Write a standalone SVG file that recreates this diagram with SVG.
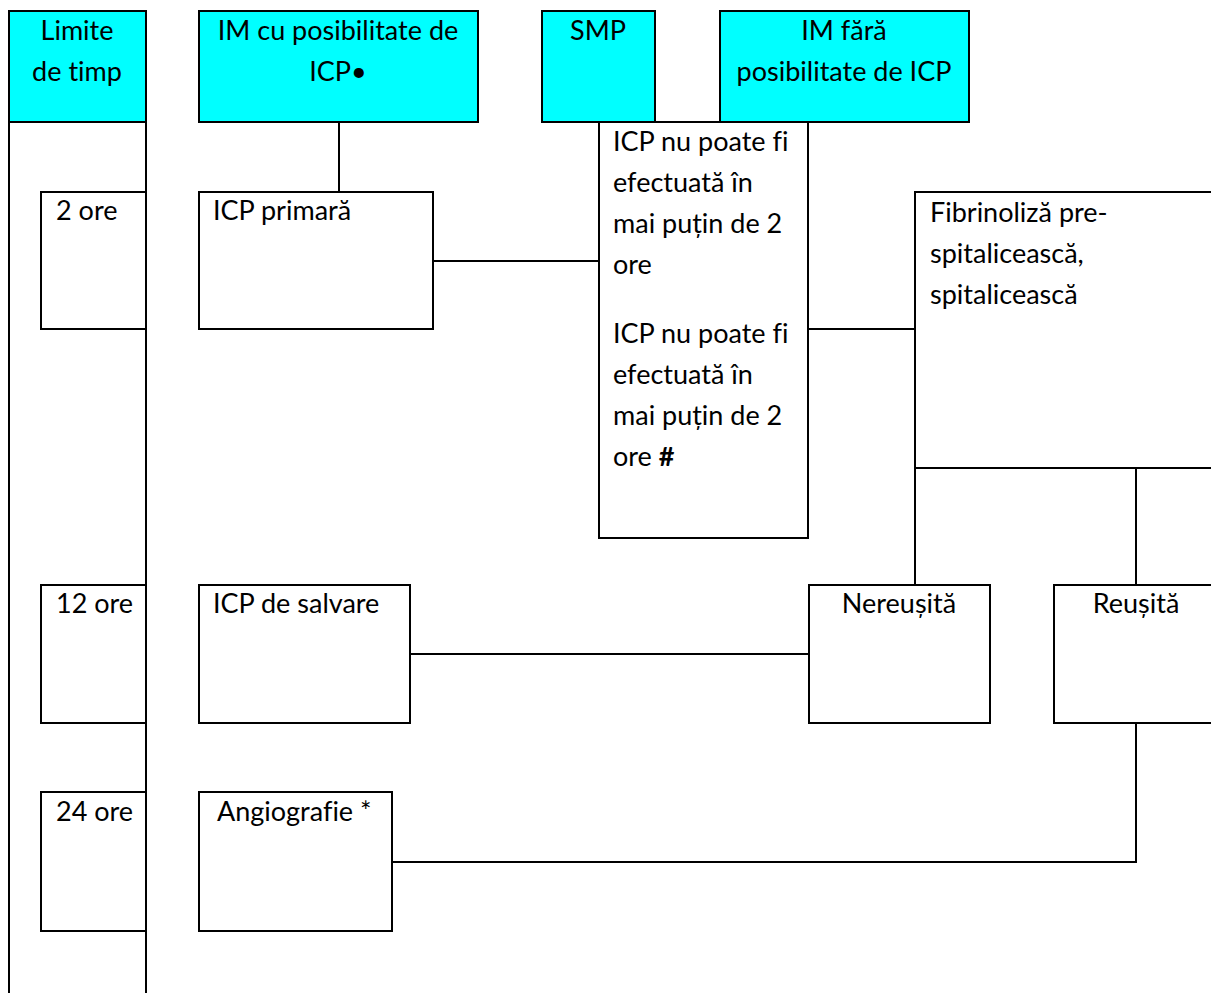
<svg xmlns="http://www.w3.org/2000/svg" width="1211" height="993" viewBox="0 0 1211 993">
<style>
.b{fill:#fff;stroke:#000;stroke-width:2}
.h{fill:#00ffff;stroke:#000;stroke-width:2}
.c{fill:none;stroke:#000;stroke-width:2}
text{font-family:Lato,"Open Sans","Liberation Sans",sans-serif;font-size:27px;fill:#000;font-variant-ligatures:none}
.m{text-anchor:middle}
</style>
<rect width="1211" height="993" fill="#fff"/>
<g id="timeline">
<rect class="h" x="9" y="11" width="137" height="111"/>
<text class="m" x="77" y="40">Limite</text>
<text class="m" x="77" y="81">de timp</text>
<line class="c" x1="9" y1="122" x2="9" y2="995"/>
<line class="c" x1="146" y1="122" x2="146" y2="995"/>
</g>
<g id="t2">
<rect class="b" x="41" y="192" width="105" height="137"/>
<text x="56" y="220">2 ore</text>
</g>
<g id="t12">
<rect class="b" x="41" y="585" width="105" height="138"/>
<text x="56" y="613">12 ore</text>
</g>
<g id="t24">
<rect class="b" x="41" y="792" width="105" height="139"/>
<text x="56" y="821">24 ore</text>
</g>
<g id="connectors">
<line class="c" x1="339" y1="122" x2="339" y2="192"/>
<line class="c" x1="433" y1="261" x2="599" y2="261"/>
<line class="c" x1="808" y1="329" x2="915" y2="329"/>
<line class="c" x1="915" y1="468" x2="915" y2="585"/>
<line class="c" x1="1136" y1="468" x2="1136" y2="585"/>
<line class="c" x1="410" y1="654" x2="809" y2="654"/>
<polyline class="c" points="1136,723 1136,862 392,862"/>
</g>
<g id="im-icp">
<rect class="h" x="199" y="11" width="279" height="111"/>
<text class="m" x="338" y="40">IM cu posibilitate de</text>
<text class="m" x="338" y="81">ICP•</text>
</g>
<g id="smp">
<rect class="h" x="542" y="11" width="113" height="111"/>
<text class="m" x="598" y="40">SMP</text>
</g>
<g id="im-fara">
<rect class="h" x="720" y="11" width="249" height="111"/>
<text class="m" x="844" y="40">IM fără</text>
<text class="m" x="844" y="81">posibilitate de ICP</text>
</g>
<g id="icp-nu">
<rect class="b" x="599" y="122" width="209" height="416"/>
<text x="613" y="151">ICP nu poate fi</text>
<text x="613" y="192">efectuată în</text>
<text x="613" y="233">mai puțin de 2</text>
<text x="613" y="274">ore</text>
<text x="613" y="343">ICP nu poate fi</text>
<text x="613" y="384">efectuată în</text>
<text x="613" y="425">mai puțin de 2</text>
<text x="613" y="466">ore <tspan font-weight="bold">#</tspan></text>
</g>
<g id="icp-primara">
<rect class="b" x="199" y="192" width="234" height="137"/>
<text x="213" y="220">ICP primară</text>
</g>
<g id="fibrinoliza">
<rect class="b" x="915" y="192" width="310" height="276"/>
<text x="930" y="222">Fibrinoliză pre-</text>
<text x="930" y="263">spitalicească,</text>
<text x="930" y="304">spitalicească</text>
</g>
<g id="icp-salvare">
<rect class="b" x="199" y="585" width="211" height="138"/>
<text x="213" y="613">ICP de salvare</text>
</g>
<g id="nereusita">
<rect class="b" x="809" y="585" width="181" height="138"/>
<text class="m" x="899" y="613">Nereușită</text>
</g>
<g id="reusita">
<rect class="b" x="1054" y="585" width="170" height="138"/>
<text class="m" x="1136" y="613">Reușită</text>
</g>
<g id="angiografie">
<rect class="b" x="199" y="792" width="193" height="139"/>
<text x="217" y="821">Angiografie *</text>
</g>
</svg>
